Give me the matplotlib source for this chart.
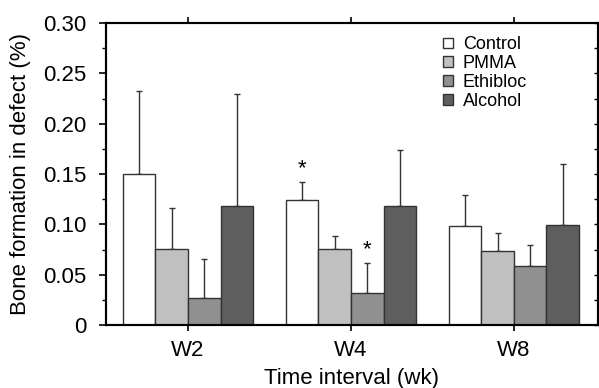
import numpy as np
import matplotlib
matplotlib.use("Agg")
import matplotlib.pyplot as plt
from matplotlib.ticker import MultipleLocator, FuncFormatter

plt.rcParams['font.family'] = ['Liberation Sans', 'DejaVu Sans']

# data
weeks = ['W2', 'W4', 'W8']
groups = ['Control', 'PMMA', 'Ethibloc', 'Alcohol']
means = {
    'Control':  [0.150, 0.124, 0.098],
    'PMMA':     [0.076, 0.076, 0.074],
    'Ethibloc': [0.027, 0.032, 0.059],
    'Alcohol':  [0.118, 0.118, 0.099],
}
err_top = {
    'Control':  [0.233, 0.142, 0.129],
    'PMMA':     [0.116, 0.088, 0.091],
    'Ethibloc': [0.066, 0.062, 0.079],
    'Alcohol':  [0.230, 0.174, 0.160],
}
colors = ['#ffffff', '#c0c0c0', '#909090', '#5e5e5e']
# significance marks: (week index, group index, y)
stars = [(1, 0, 0.155), (1, 2, 0.075)]

fig = plt.figure(figsize=(5.99, 3.88), dpi=100)
ax = fig.add_axes([0.177, 0.1624, 0.821, 0.778])

x = np.arange(len(weeks))
w = 0.2
for i, g in enumerate(groups):
    pos = x + (i - 1.5) * w
    m = np.array(means[g])
    e = np.array(err_top[g]) - m
    ax.bar(pos, m, w, color=colors[i], edgecolor='#333333', linewidth=1.0,
           label=g, zorder=2)
    ax.errorbar(pos, m, yerr=[np.zeros_like(e), e], fmt='none',
                ecolor='#333333', elinewidth=1.0, capsize=2.2, capthick=1.0,
                zorder=1)

for wi, gi, yv in stars:
    ax.text(x[wi] + (gi - 1.5) * w, yv, '*', ha='center', va='center',
            fontsize=16)

ax.set_xlim(-0.503, 2.515)
ax.set_ylim(0, 0.30)
ax.set_xticks(x)
ax.set_xticklabels(weeks, fontsize=16)
ax.yaxis.set_major_locator(MultipleLocator(0.05))
ax.yaxis.set_minor_locator(MultipleLocator(0.025))
ax.yaxis.set_major_formatter(FuncFormatter(lambda v, p: '0' if abs(v) < 1e-9 else '%.2f' % v))
ax.tick_params(axis='y', which='major', labelsize=16, direction='out', length=5, width=1.2, pad=9)
ax.tick_params(axis='y', which='minor', direction='out', length=3, width=1.0)
ax.tick_params(axis='x', direction='out', length=4, width=1.2, top=True, pad=7)

# right side minor ticks pointing in
ax2 = ax.twinx()
ax2.set_ylim(0, 0.30)
ax2.yaxis.set_major_locator(MultipleLocator(0.025))
ax2.tick_params(axis='y', direction='in', length=3, width=1.0, labelright=False)

for a in (ax, ax2):
    for s in a.spines.values():
        s.set_linewidth(1.5)

ax.set_xlabel('Time interval (wk)', fontsize=16, labelpad=5)
ax.set_ylabel('Bone formation in defect (%)', fontsize=16, labelpad=9)

ax.legend(loc='upper left', bbox_to_anchor=(0.652, 1.01), frameon=False,
          fontsize=13, handlelength=0.55, handleheight=0.55, handletextpad=0.55,
          labelspacing=0.1)

fig.savefig('out.png', dpi=100)
